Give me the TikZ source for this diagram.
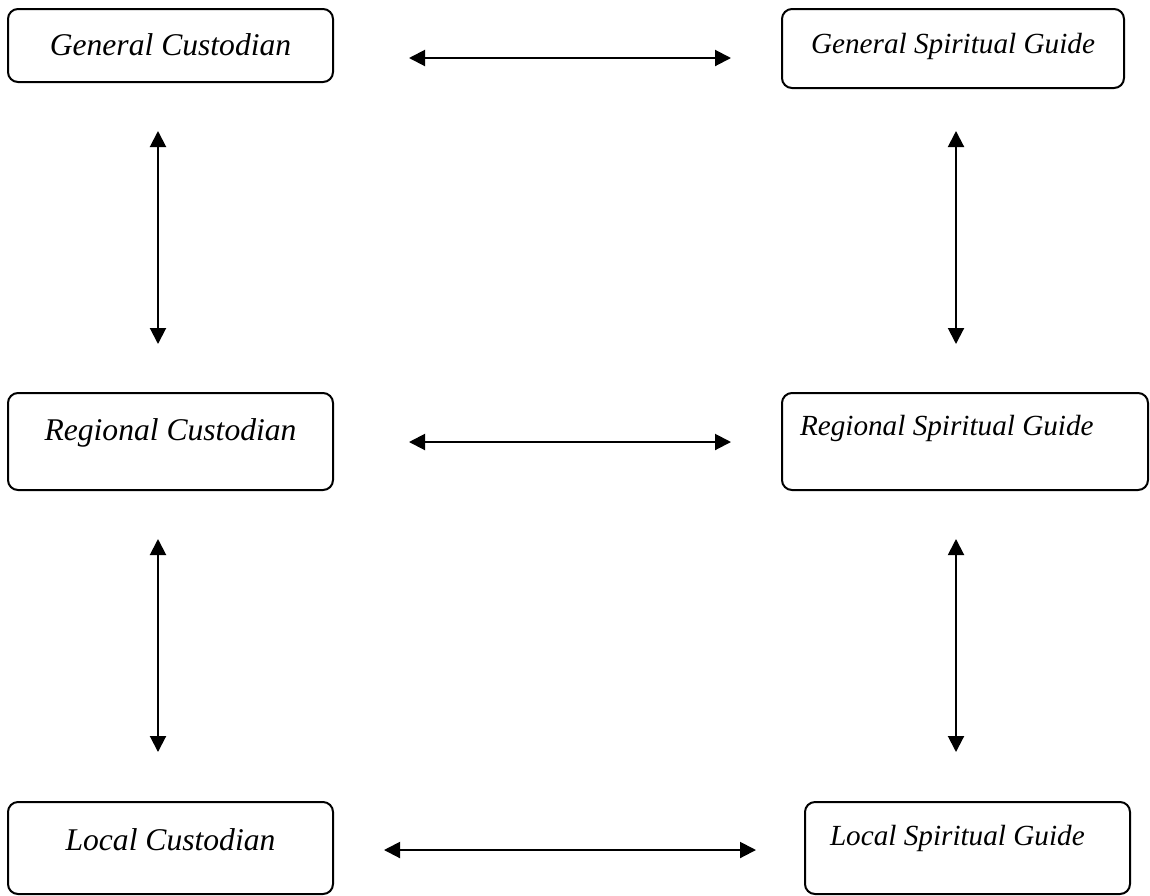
\documentclass[tikz,border=0pt]{standalone}
\usepackage{fontspec}
\setmainfont{Liberation Serif}
\usetikzlibrary{arrows.meta}

\begin{document}
\begin{tikzpicture}[x=0.5pt,y=-0.5pt,
    role/.style={draw, line width=1pt, rounded corners=5pt, inner sep=0pt,
      font=\itshape\fontsize{15.8}{18}\selectfont},
    guide/.style={role, font=\itshape\fontsize{14.6}{17}\selectfont},
    link/.style={{Triangle[length=8pt,width=8pt]}-{Triangle[length=8pt,width=8pt]}, line width=1pt}]
   \useasboundingbox (0,0) rectangle (1150,895);
   %% custodians
   \node[role, minimum width=162.5pt, text height=23pt, text depth=13.5pt] (gc) at (170.5,45.5) {General Custodian};
   \node[role, minimum width=162.5pt, text height=23.5pt, text depth=25pt] (rc) at (170.5,441.5) {Regional Custodian};
   \node[role, minimum width=162.5pt, text height=24pt, text depth=22pt] (lc) at (170.5,848) {Local Custodian};
   %% spiritual guides
   \node[guide, minimum width=171pt, text height=22pt, text depth=17.5pt] (gsg) at (953,48.5) {General Spiritual Guide};
   \node[guide, align=flush left, inner xsep=9pt, text width=165pt, text height=21pt, text depth=27.5pt] (rsg) at (965,441.5) {Regional Spiritual Guide};
   \node[guide, align=flush left, inner xsep=12.5pt, text width=137.5pt, text height=21.5pt, text depth=24.5pt] (lsg) at (967.5,848) {Local Spiritual Guide};
   %% across
   \draw[link, shorten >=25pt] ([shift={(75,12.5)}]gc.east) coordinate (h1) -- (h1 -| gsg.west);
   \draw[link, shorten >=25pt] ([shift={(75,0.5)}]rc.east) coordinate (h2) -- (h2 -| rsg.west);
   \draw[link, shorten >=24pt] ([shift={(50,2)}]lc.east) coordinate (h3) -- (h3 -| lsg.west);
   %% down
   \draw[link, shorten >=24pt] ([shift={(-12.5,48)}]gc.south) coordinate (v1) -- (v1 |- rc.north);
   \draw[link, shorten >=24.5pt] ([shift={(-12.5,48)}]rc.south) coordinate (v2) -- (v2 |- lc.north);
   \draw[link, shorten >=24pt] ([shift={(3,42)}]gsg.south) coordinate (v3) -- (v3 |- rsg.north);
   \draw[link, shorten >=24.5pt] ([shift={(-9,48)}]rsg.south) coordinate (v4) -- (v4 |- lsg.north);
\end{tikzpicture}
\end{document}
